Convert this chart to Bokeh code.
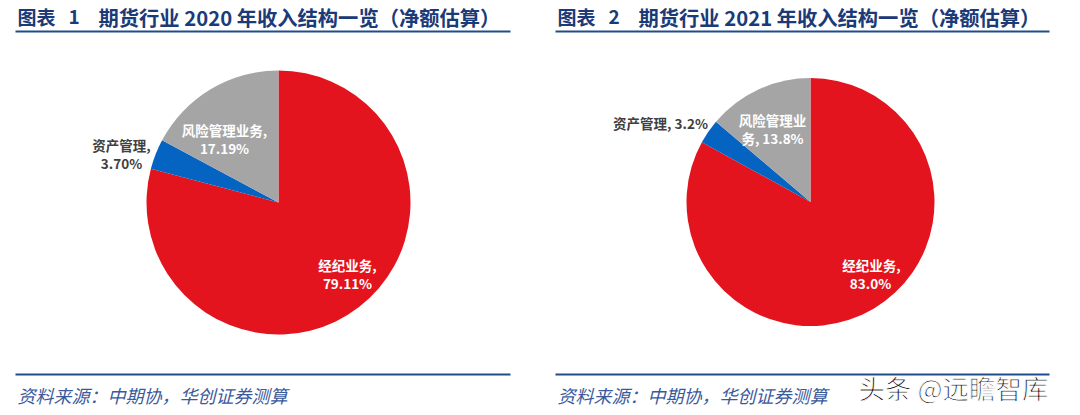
from bokeh.plotting import figure
from bokeh.models import Range1d
from bokeh.core.properties import value
from bokeh.embed import file_html
from bokeh.resources import INLINE
import math

# ---------------- data ----------------
categories = ["经纪业务", "资产管理", "风险管理业务"]
share_2020 = [79.11, 3.70, 17.19]
share_2021 = [83.0, 3.2, 13.8]
title_heads = ["图表", "图表"]
title_nums = ["1", "2"]
title_bodies = ["期货行业 2020 年收入结构一览（净额估算）",
                "期货行业 2021 年收入结构一览（净额估算）"]
source_text = "资料来源：中期协，华创证券测算"
watermark = "头条 @远瞻智库"

# ---------------- styles / layout ----------------
slice_colors = ["#E3141E", "#0563C1", "#A5A5A5"]
W, H = 1072, 410
CJK = value("Noto Sans CJK SC")


def Y(ypix):  # page pixel -> data y
    return H - ypix


def X(xpix):
    return xpix


p = figure(width=W, height=H, output_backend="svg", toolbar_location=None,
           x_range=Range1d(0, W), y_range=Range1d(0, H), min_border=0)
p.axis.visible = False
p.grid.visible = False
p.outline_line_color = None
p.background_fill_color = "white"
p.border_fill_color = "white"


def draw_pie(cx, cy, r, shares):
    total = sum(shares)
    start = math.pi / 2
    starts, ends = [], []
    for s in shares:
        end = start - 2 * math.pi * s / total
        starts.append(start)
        ends.append(end)
        start = end
    p.wedge(x=[X(cx)] * len(shares), y=[Y(cy)] * len(shares), radius=r,
            start_angle=starts, end_angle=ends, direction="clock",
            fill_color=slice_colors, line_color=None)


draw_pie(278, 202, 132, share_2020)
draw_pie(810, 201.5, 124, share_2021)

# ---------------- pie labels ----------------
lbl_white = "white"
lbl_dark = "#404040"
labels = [
    # (text, xpix, ypix, color)
    (f"{categories[0]},", 347, 264, lbl_white),
    (f"{share_2020[0]:.2f}%", 347, 282, lbl_white),
    (f"{categories[2]},", 224, 129, lbl_white),
    (f"{share_2020[2]:.2f}%", 224, 147, lbl_white),
    (f"{categories[1]},", 121, 144, lbl_dark),
    (f"{share_2020[1]:.2f}%", 121, 162, lbl_dark),
    (f"{categories[0]},", 871, 264, lbl_white),
    (f"{share_2021[0]:.1f}%", 870, 282, lbl_white),
    (f"{categories[2][:5]}", 772, 119, lbl_white),
    (f"{categories[2][5:]}, {share_2021[2]:.1f}%", 772, 137, lbl_white),
    (f"{categories[1]}, {share_2021[1]:.1f}%", 660, 122, lbl_dark),
]
for t, xp, yp, c in labels:
    p.text(x=[X(xp)], y=[Y(yp)], text=[t], text_align="center",
           text_baseline="middle", text_font=CJK, text_font_size="13.5px",
           text_font_style="bold", text_color=c)

# ---------------- titles and rules ----------------
title_color = "#1B3A78"
rule_color = "#1F4C8C"
for i, (x0, x1) in enumerate([(15, 510), (555, 1049)]):
    for txt, xo, fs in [(title_heads[i], 2, "19px"), (title_nums[i], 53, "19px"),
                        (title_bodies[i], 83, "20.3px")]:
        p.text(x=[X(x0 + xo)], y=[Y(16)], text=[txt], text_align="left",
               text_baseline="middle", text_font=CJK, text_font_size=fs,
               text_font_style="bold", text_color=title_color)
    p.segment(x0=[X(x0)], y0=[Y(31)], x1=[X(x1)], y1=[Y(31)],
              line_color=rule_color, line_width=2)
    p.segment(x0=[X(x0)], y0=[Y(374)], x1=[X(x1)], y1=[Y(374)],
              line_color=rule_color, line_width=2)
    p.text(x=[X(x0 + 2)], y=[Y(394)], text=[source_text], text_align="left",
           text_baseline="middle", text_font=CJK, text_font_size="18px",
           text_font_style="italic", text_color="#3A5A9C")

p.text(x=[X(858)], y=[Y(387)], text=[watermark], text_align="left",
       text_baseline="middle", text_font=CJK, text_font_size="26.5px",
       text_color="black", text_outline_color="white")

open("out.html", "w").write(file_html(p, INLINE))
